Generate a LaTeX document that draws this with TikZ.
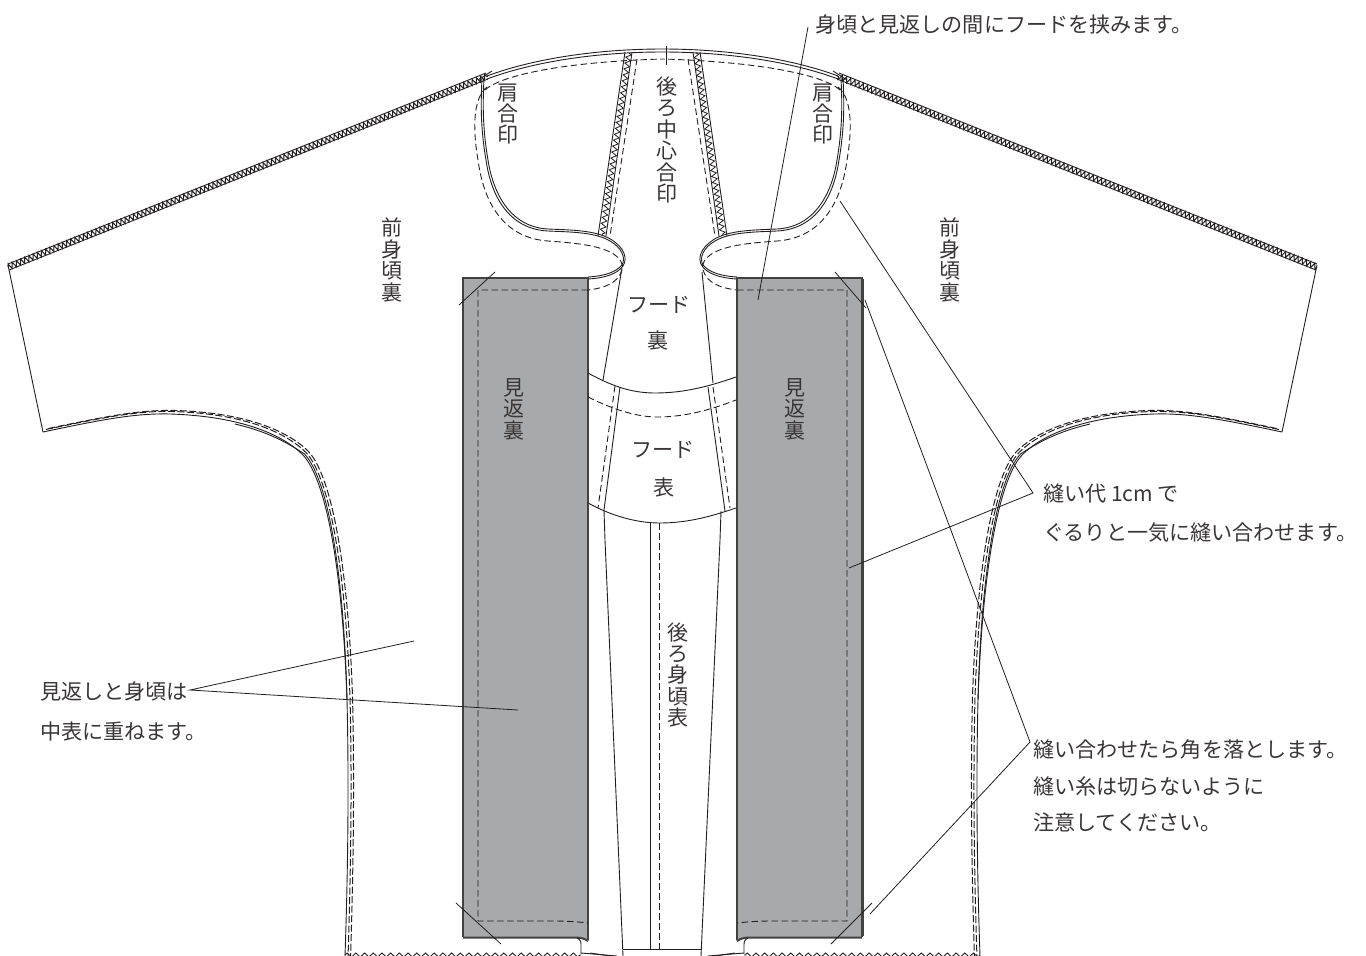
\documentclass[tikz,border=0pt]{standalone}
\usepackage{fontspec}
\setmainfont{Noto Sans CJK JP}
\usetikzlibrary{decorations.pathmorphing}
\definecolor{ink}{HTML}{231F20}
\definecolor{txt}{HTML}{3A3638}
\definecolor{panelgrey}{HTML}{A7A9AC}
\tikzset{
  solidline/.style={draw=ink,line width=0.9pt,line join=round},
  dashline/.style={draw=ink,line width=0.9pt,dash pattern=on 6.5pt off 3.5pt},
  sidedash/.style={draw=ink,line width=1pt,dash pattern=on 7pt off 2.5pt},
  leader/.style={draw=ink,line width=0.8pt},
  zigline/.style={draw=ink,line width=0.8pt,decorate,decoration={zigzag,segment length=6pt,amplitude=2.6pt}},
  shoulderzig/.style={draw=ink,line width=1pt,decorate,decoration={zigzag,segment length=4.5pt,amplitude=2.8pt}},
  hemzig/.style={draw=ink,line width=0.9pt,decorate,decoration={zigzag,segment length=8.7pt,amplitude=2pt}},
  lbl/.style={text=txt,inner sep=0pt,font=\fontsize{21.1}{39}\selectfont,align=left},
  vlbl/.style={text=txt,inner sep=0pt,font=\fontsize{21}{21.4}\selectfont,align=center},
  hlbl/.style={text=txt,inner sep=0pt,font=\fontsize{21.1}{24}\selectfont},
}
\newcommand{\halfbody}{%
  % shoulder seam
  \draw[solidline] (8,264) -- (486,73);
  \draw[solidline] (9,270) -- (488,79);
  \draw[shoulderzig] (8,267) -- (488,76);
  \draw[solidline] (478,80) -- (492,71);
  % sleeve end
  \draw[solidline] (8,265) -- (43,432);
  % underarm and side seam
  \draw[solidline] (43,432) .. controls (100,420) and (135,413) .. (170,414) .. controls (235,416) and (280,432) .. (303,455) .. controls (328,482) and (343,580) .. (347,700) .. controls (349,780) and (348,870) .. (345,956);
  \draw[solidline] (235,424) .. controls (265,431) and (285,441) .. (304.5,454) .. controls (329.5,481) and (344,580) .. (347,700);
  \begin{scope}[shift={(3,-2.5)}]
    \draw[sidedash] (43,432) .. controls (100,420) and (135,413) .. (170,414) .. controls (235,416) and (280,432) .. (303,455) .. controls (328,482) and (343,580) .. (347,700) .. controls (349,780) and (348,870) .. (345,960);
  \end{scope}
  \begin{scope}[shift={(5.5,-4.5)}]
    \draw[sidedash] (43,433) .. controls (100,421) and (135,414) .. (170,415) .. controls (235,417) and (280,433) .. (303,456) .. controls (328,483) and (343,581) .. (347,701) .. controls (349,781) and (348,871) .. (345,964);
  \end{scope}
  % hem
  \draw[hemzig] (345,955) -- (581,955);
  % neck top arc
  \draw[solidline] (487,76) .. controls (535,58) and (600,49) .. (662.5,49);
  \draw[solidline] (487,79) .. controls (535,61) and (600,52) .. (662.5,52);
  \draw[dashline] (485,90) .. controls (500,76) and (560,62) .. (662.5,59);
  % neck curve with roll
  \draw[solidline] (482,78) .. controls (481,100) and (480,125) .. (486,160) .. controls (491,195) and (508,229) .. (548,231) .. controls (570,232) and (595,232) .. (610,241) .. controls (622,248) and (626,258) .. (622,265) .. controls (616,272) and (605,276) .. (588,277);
  \draw[solidline] (484,78) .. controls (483,100) and (482,125) .. (488,160) .. controls (493,193) and (510,227) .. (548,229) .. controls (570,230) and (597,230) .. (612,240) .. controls (624,248) and (628,258) .. (623,266) .. controls (617,274) and (605,278) .. (588,279);
  \draw[dashline] (487,87) .. controls (474,97) and (472,125) .. (478,160) .. controls (484,205) and (505,238) .. (548,241) .. controls (575,243) and (597,245) .. (612,253) .. controls (620,258) and (624,264) .. (622,270) .. controls (618,283) and (605,288) .. (588,290);
  % seam at centre back of hood
  \draw[solidline] (625,52) -- (598,236);
  \draw[solidline] (632,52) -- (606,236);
  \draw[zigline] (629,53) -- (602,236);
  \draw[dashline] (637,59) -- (610,236);
  % facing panel
  \fill[panelgrey] (463,277) -- (588,277) -- (588,941) .. controls (584,937) and (580,937) .. (575,937) -- (463,937) -- cycle;
  \draw[draw=ink!85,line width=1.2pt] (588,279) -- (588,940);
  \draw[draw=ink!85,line width=2.4pt] (463,937) -- (463,278) -- (589,278);
  \draw[draw=ink!85,line width=2pt] (463,937.5) -- (574,937.5) .. controls (580,937.5) and (584,938) .. (588,941);
  \draw[dashline] (588,290) -- (478,290) -- (478,921) -- (555,921) .. controls (568,921) and (580,922) .. (588,923);
  % below panel
  \draw[solidline] (577,938) .. controls (581,940) and (581,942) .. (581,946) -- (581,954);
  \draw[solidline] (581,953) -- (617,956);
  \draw[solidline] (590,953) -- (617,957);
}
\begin{document}
\begin{tikzpicture}[x=1pt,y=-1pt]
\useasboundingbox (0,0) rectangle (1366,956);
\clip (0,0) rectangle (1366,956);
\fill[white] (0,0) rectangle (1366,956);
\halfbody
\begin{scope}[xshift=1325pt,xscale=-1]
\halfbody
\end{scope}
% thicker right panel edges
\draw[draw=ink!85,line width=1.6pt] (863.5,279) -- (863.5,936);
% corner cuts
\coordinate (cutAa) at (459,305);
\coordinate (cutAb) at (495,272);
\coordinate (cutBa) at (456,903);
\coordinate (cutBb) at (501,944);
\coordinate (cutCa) at (835,272);
\coordinate (cutCb) at (866,308);
\coordinate (cutDa) at (872,903);
\coordinate (cutDb) at (831,944);
\draw[leader] (cutAa) -- (cutAb);
\draw[leader] (cutBa) -- (cutBb);
\draw[leader] (cutCa) -- (cutCb);
\draw[leader] (cutDa) -- (cutDb);
% centre tick
\coordinate (tickA) at (666,46);
\coordinate (tickB) at (666,65);
\draw[solidline] (tickA) -- (tickB);
% hood upper part (lining)
\draw[solidline] (622,268) -- (603,380);
\draw[solidline] (702,272) -- (713,383);
\draw[solidline] (588,373) .. controls (610,385) and (630,393) .. (655,393) .. controls (685,393) and (710,386) .. (736,377);
\draw[dashline] (588,397) .. controls (610,408) and (635,417) .. (657,417) .. controls (685,417) and (710,410) .. (736,400);
% hood lower part (outer)
\draw[solidline] (620,387) -- (604,510);
\draw[dashline] (615,386) -- (598,508);
\draw[solidline] (708,387) -- (725,511);
\draw[dashline] (713,387) -- (730,508);
\draw[solidline] (588,503) .. controls (610,515) and (635,523) .. (660,523) .. controls (690,523) and (715,515) .. (736,508);
% back body
\draw[solidline] (604,510) -- (605,540) -- (623,956);
\draw[solidline] (721,511) -- (720,540) -- (701,956);
\draw[solidline] (650,523) -- (650,949);
\draw[dashline] (659,523) -- (659,949);
\draw[solidline] (623,949) -- (701,949);
% texts
\node[lbl,anchor=west] (tTop) at (815,25) {身頃と見返しの間にフードを挟みます。};
\node[lbl,anchor=north west] (tSeam) at (1043,484) {縫い代 1cm で\\ぐるりと一気に縫い合わせます。};
\node[lbl,font=\fontsize{21.1}{36.5}\selectfont,anchor=north west] (tCut) at (1033,740) {縫い合わせたら角を落とします。\\縫い糸は切らないように\\注意してください。};
\node[lbl,font=\fontsize{21.1}{40}\selectfont,anchor=north west] (tLap) at (40,682) {見返しと身頃は\\中表に重ねます。};
\node[vlbl] (v1) at (392,260) {前\\身\\頃\\裏};
\node[vlbl] (v2) at (950,260) {前\\身\\頃\\裏};
\node[vlbl] (v3) at (508,114) {肩\\合\\印};
\node[vlbl] (v4) at (823,114) {肩\\合\\印};
\node[vlbl] (v5) at (667,140) {後\\ろ\\中\\心\\合\\印};
\node[vlbl] (v6) at (514,409) {見\\返\\裏};
\node[vlbl] (v7) at (795,409) {見\\返\\裏};
\node[vlbl] (v8) at (678,675) {後\\ろ\\身\\頃\\表};
\node[hlbl] (h1) at (659,305) {フード};
\node[hlbl] (h2) at (658,340) {裏};
\node[hlbl] (h3) at (663,450) {フード};
\node[hlbl] (h4) at (664,487) {表};
% leaders
\coordinate (topA) at (808,27);
\coordinate (topB) at (758,300);
\draw[leader] (topA) -- (topB);
\coordinate (seamApex) at (1033,493);
\coordinate (seamA) at (840,201);
\coordinate (seamB) at (849,568);
\draw[leader] (seamA) -- (seamApex) -- (seamB);
\coordinate (cutApex) at (1030,742);
\coordinate (cutA) at (865,300);
\coordinate (cutB) at (870,914);
\draw[leader] (cutA) -- (cutApex) -- (cutB);
\coordinate (lapApex) at (190,690);
\coordinate (lapA) at (414,641);
\coordinate (lapB) at (518,710);
\draw[leader] (lapA) -- (lapApex) -- (lapB);
\end{tikzpicture}
\end{document}
